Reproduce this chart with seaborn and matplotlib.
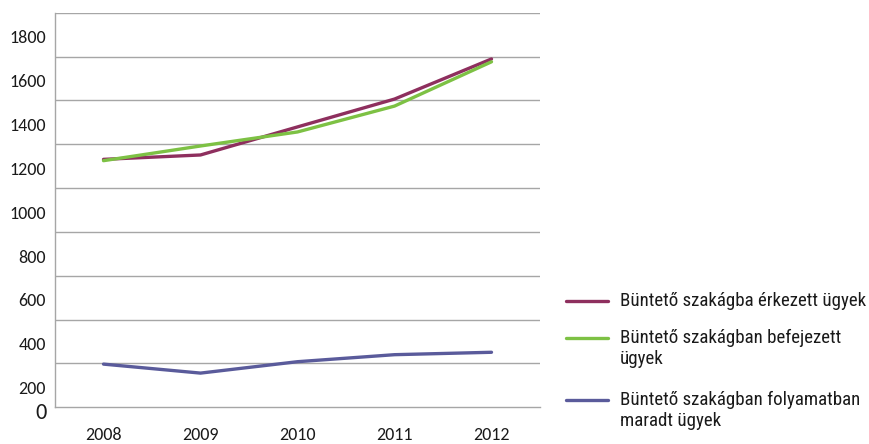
import matplotlib
matplotlib.use("Agg")
import matplotlib.pyplot as plt
from matplotlib.lines import Line2D
import matplotlib.transforms as mtransforms
import seaborn as sns
import pandas as pd

years = [2008, 2009, 2010, 2011, 2012]
erkezett = [1131, 1151, 1279, 1406, 1589]
befejezett = [1125, 1192, 1256, 1374, 1576]
folyamatban = [197, 156, 208, 240, 251]
series_names = ["Büntető szakágba érkezett ügyek",
                "Büntető szakágban befejezett\nügyek",
                "Büntető szakágban folyamatban\nmaradt ügyek"]
colors = ["#8E2F5E", "#7DC144", "#5A5B9B"]
ytick_labels = ["200", "400", "600", "800", "1000", "1200", "1400", "1600", "1800"]

df = pd.DataFrame({
    "year": years * 3,
    "value": erkezett + befejezett + folyamatban,
    "series": [series_names[0]] * 5 + [series_names[1]] * 5 + [series_names[2]] * 5,
})

sns.set_theme(style="white")
plt.rcParams["font.family"] = ["Carlito", "DejaVu Sans"]

fig = plt.figure(figsize=(8.7, 4.44), dpi=100)
ax = fig.add_axes([55 / 870, (444 - 407.3) / 444, 485 / 870, (407.3 - 12.7) / 444])

sns.lineplot(data=df, x="year", y="value", hue="series", palette=colors,
             linewidth=2.4, ax=ax, legend=False)

ax.set_xlim(2007.5, 2012.5)
ax.set_ylim(0, 1800)

# gridlines at multiples of 200
grid_vals = [int(v) for v in ytick_labels]
ax.set_yticks(grid_vals, minor=True)
ax.grid(axis="y", which="minor", color="#A6A6A6", linewidth=1.0)
ax.grid(axis="y", which="major", visible=False)
ax.grid(axis="x", visible=False)

# tick labels sit halfway between gridlines in the reference
ax.set_yticks([v - 110 for v in grid_vals])
ax.set_yticklabels(ytick_labels)
ax.tick_params(axis="y", which="both", length=0, pad=6.5, labelsize=13, labelcolor="#1a1a1a")
ax.set_xticks(years)
ax.set_xticklabels([str(y) for y in years])
ax.tick_params(axis="x", length=0, pad=14, labelsize=13, labelcolor="#1a1a1a")
ax.set_xlabel("")
ax.set_ylabel("")

for side in ["top", "right"]:
    ax.spines[side].set_visible(False)
for side in ["left", "bottom"]:
    ax.spines[side].set_color("#A6A6A6")
    ax.spines[side].set_linewidth(1.0)

# the larger "0" label
trans = mtransforms.blended_transform_factory(fig.transFigure, ax.transData)
ax.text(46.5 / 870, -28, "0", transform=trans, ha="right", va="center",
        fontsize=16, color="#1a1a1a")

# legend drawn at the right
leg_font = ["Roboto Condensed", "DejaVu Sans"]
entries_y = [301, 338, 400]
for name, col, yy in zip(series_names, colors, entries_y):
    yf = (444 - yy) / 444
    fig.add_artist(Line2D([566 / 870, 608 / 870], [yf, yf], color=col,
                          linewidth=2.4, transform=fig.transFigure))
    fig.text(620 / 870, yf + 9 / 444, name, ha="left", va="top", fontsize=13.6,
             family=leg_font, color="#1a1a1a", linespacing=1.2,
             transform=fig.transFigure)

fig.savefig("out.png", dpi=100)
